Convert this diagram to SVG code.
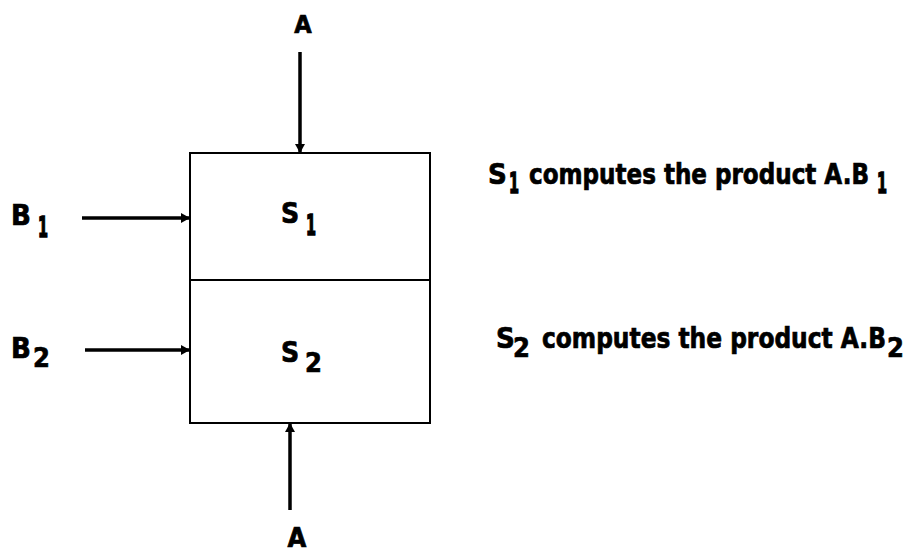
<svg xmlns="http://www.w3.org/2000/svg" width="911" height="552" viewBox="0 0 911 552">
<style>
.t{font-family:"DejaVu Sans Condensed","DejaVu Sans",sans-serif;font-weight:bold;fill:#000;stroke:#000;stroke-width:0.7}
.one{stroke-width:1.6}
.box{fill:#fff;stroke:#000;stroke-width:2}
.arr{stroke:#000;stroke-width:3.5;fill:none}
</style>
<defs>
<marker id="ah" markerUnits="userSpaceOnUse" markerWidth="9" markerHeight="10" refX="9" refY="5" orient="auto">
<path d="M0,0 L9,5 L0,10 z" fill="#000"/>
</marker>
</defs>
<rect width="911" height="552" fill="#fff"/>
<g id="stage-s1">
<rect class="box" x="190" y="153" width="240" height="127"/>
<text class="t" x="281" y="223" font-size="28">S</text>
<text class="t one" x="306" y="235" font-size="29" textLength="10" lengthAdjust="spacingAndGlyphs">1</text>
</g>
<g id="stage-s2">
<rect class="box" x="190" y="280" width="240" height="143"/>
<text class="t" x="281" y="362" font-size="28">S</text>
<text class="t" x="305" y="372" font-size="27">2</text>
</g>
<g id="connectors">
<line class="arr" x1="300" y1="52" x2="300" y2="153" marker-end="url(#ah)"/>
<line class="arr" x1="290" y1="510" x2="290" y2="423" marker-end="url(#ah)"/>
<line class="arr" x1="82" y1="218" x2="190" y2="218" marker-end="url(#ah)"/>
<line class="arr" x1="85" y1="350" x2="190" y2="350" marker-end="url(#ah)"/>
</g>
<g id="labels">
<text class="t" x="303" y="33" font-size="25" text-anchor="middle">A</text>
<text class="t" x="297" y="547" font-size="27" text-anchor="middle">A</text>
<text class="t" x="11" y="225" font-size="29">B</text>
<text class="t one" x="38" y="237" font-size="29" textLength="10" lengthAdjust="spacingAndGlyphs">1</text>
<text class="t" x="11" y="358" font-size="29">B</text>
<text class="t" x="33" y="367" font-size="27">2</text>
</g>
<g id="note-s1">
<text class="t" x="488" y="184" font-size="29">S</text>
<text class="t one" x="509" y="193" font-size="29" textLength="10" lengthAdjust="spacingAndGlyphs">1</text>
<text class="t" x="529" y="184" font-size="29" textLength="340" lengthAdjust="spacingAndGlyphs">computes the product A.B</text>
<text class="t one" x="877" y="193" font-size="29" textLength="10" lengthAdjust="spacingAndGlyphs">1</text>
</g>
<g id="note-s2">
<text class="t" x="496" y="348" font-size="29">S</text>
<text class="t" x="513" y="357" font-size="27">2</text>
<text class="t" x="542" y="348" font-size="29" textLength="344" lengthAdjust="spacingAndGlyphs">computes the product A.B</text>
<text class="t" x="887" y="357" font-size="27">2</text>
</g>
</svg>
